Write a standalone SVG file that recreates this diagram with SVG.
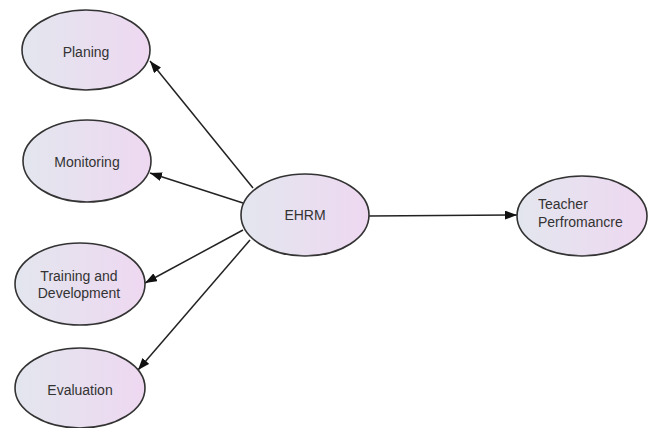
<svg xmlns="http://www.w3.org/2000/svg" width="651" height="428" viewBox="0 0 651 428">
<defs>
<linearGradient id="g" x1="0" y1="0" x2="1" y2="0">
<stop offset="0" stop-color="#e3e6ee"/>
<stop offset="1" stop-color="#eed8f1"/>
</linearGradient>
<marker id="ah" markerWidth="12" markerHeight="9" refX="12" refY="4.5" orient="auto" markerUnits="userSpaceOnUse">
<path d="M0,0 L12,4.5 L0,9 Z" fill="#111"/>
</marker>
<style>
.n{fill:url(#g);stroke:#333;stroke-width:1.6}
.t{font-family:"Liberation Sans",Arial,sans-serif;font-size:14px;fill:#333}
.c{fill:none;stroke:#222;stroke-width:1.5;marker-end:url(#ah)}
</style>
</defs>
<rect width="651" height="428" fill="#fff"/>
<g id="connectors">
<line class="c" x1="253" y1="188" x2="150" y2="61"/>
<line class="c" x1="243" y1="203" x2="150" y2="173"/>
<line class="c" x1="243" y1="230" x2="145" y2="283"/>
<line class="c" x1="250" y1="240" x2="138" y2="370"/>
<line class="c" x1="369" y1="216" x2="517" y2="215"/>
</g>
<g id="planing">
<ellipse class="n" cx="86" cy="50" rx="64" ry="40"/>
<text class="t" x="86" y="57" text-anchor="middle">Planing</text>
</g>
<g id="monitoring">
<ellipse class="n" cx="87" cy="161" rx="64" ry="41"/>
<text class="t" x="87" y="167" text-anchor="middle">Monitoring</text>
</g>
<g id="training">
<ellipse class="n" cx="80" cy="284" rx="65" ry="41"/>
<text class="t" x="79" y="281" text-anchor="middle">Training and</text>
<text class="t" x="79" y="298" text-anchor="middle">Development</text>
</g>
<g id="evaluation">
<ellipse class="n" cx="80" cy="388" rx="65" ry="40"/>
<text class="t" x="80" y="395" text-anchor="middle">Evaluation</text>
</g>
<g id="ehrm">
<ellipse class="n" cx="305" cy="215" rx="64" ry="41"/>
<text class="t" x="305" y="220" text-anchor="middle">EHRM</text>
</g>
<g id="teacher">
<ellipse class="n" cx="582" cy="216" rx="65" ry="40"/>
<text class="t" x="538" y="209">Teacher</text>
<text class="t" x="538" y="227">Perfromancre</text>
</g>
</svg>
